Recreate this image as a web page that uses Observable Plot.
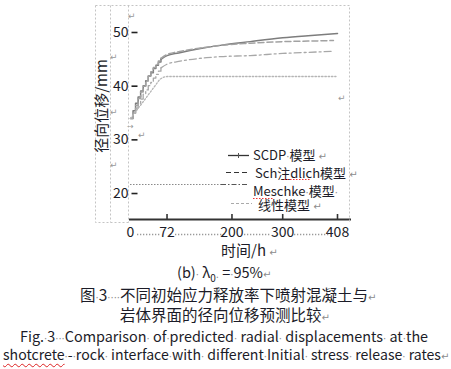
<!DOCTYPE html>
<html>
<head>
<meta charset="utf-8">
<script src="https://cdn.jsdelivr.net/npm/d3@7"></script>
<script src="https://cdn.jsdelivr.net/npm/@observablehq/plot@0.6"></script>
<style>
  html, body { margin: 0; padding: 0; background: #fff; }
  #wrap { position: relative; width: 451px; height: 369px; overflow: hidden; font-family: "Noto Sans CJK SC", "Noto Sans", sans-serif; color: #1c1c28; }
  #wrap svg.plot { position: absolute; left: 0; top: 0; }
  #overlay { position: absolute; left: 0; top: 0; }
  .cap { position: absolute; white-space: pre; line-height: 1; }
  .g { color: #8c8c8c; font-family: "DejaVu Sans"; font-size: 10px; }
  .wavy { text-decoration: underline wavy #d22; text-decoration-thickness: 1px; text-underline-offset: 3px; }
</style>
</head>
<body>
<div id="wrap"></div>
<script>
// ---- data ----
const models = ["SCDP模型", "Schädlich模型", "Meschke模型", "线性模型"];

const scdpT = [0,5,10,15,20,25,30,35,40,45,50,55,60,72,95,138,177,236,300,350,408];
const scdpV = [34.0,35.4,36.8,38.0,39.1,40.1,41.0,41.9,42.5,43.3,43.9,44.5,45.0,45.7,46.2,47.0,47.6,48.3,49.0,49.4,49.8];

const schT = [0,5,10,15,20,25,30,35,40,45,50,55,60,72,100,138,177,236,300,350,400];
const schV = [34.0,35.0,36.4,37.7,38.9,40.0,41.0,41.9,42.7,43.5,44.1,44.7,45.2,45.9,46.5,47.1,47.6,48.0,48.3,48.4,48.5];

const meschT = [0,5,10,15,20,25,30,35,40,45,50,55,60,72,95,150,177,236,300,350,400];
const meschV = [34.0,35.0,35.9,36.8,37.6,38.5,39.3,40.1,40.7,41.5,42.2,42.8,43.4,44.1,44.6,45.3,45.5,45.7,46.1,46.3,46.5];

const linT = [0,25,58,66,72,405];
const linV = [34.0,37.1,41.3,41.7,41.8,41.8];

const xTicks = [0,72,200,300,408];
const yTicks = [20,30,40,50];
const stepEnd = 60; // early excavation stage drawn as staircase

const series = [
  {name: models[0], t: scdpT, v: scdpV, stroke: "#7d7d7d", dash: null, width: 1.5, stepped: true},
  {name: models[1], t: schT, v: schV, stroke: "#a2a2a2", dash: "6,3", width: 1.5, stepped: true},
  {name: models[2], t: meschT, v: meschV, stroke: "#a8a8a8", dash: "7,3,2,3", width: 1.3, stepped: true},
  {name: models[3], t: linT, v: linV, stroke: "#b5b5b5", dash: "1.5,1.8", width: 1.3, stepped: false}
];

const rows = series.flatMap(s => s.t.map((t, i) => ({model: s.name, t, v: s.v[i]})));

const marks = [];
for (const s of series) {
  const d = rows.filter(r => r.model === s.name);
  const style = {x: "t", y: "v", stroke: s.stroke, strokeWidth: s.width, strokeDasharray: s.dash};
  if (s.stepped) {
    marks.push(Plot.line(d.filter(r => r.t <= stepEnd), {...style, curve: "step-after"}));
    marks.push(Plot.line(d.filter(r => r.t >= stepEnd), {...style, curve: "monotone-x"}));
  } else {
    marks.push(Plot.line(d, {...style, curve: "linear"}));
  }
}

const yMin = 15.16, yMax = 55.03;

const chart = Plot.plot({
  width: 451,
  height: 245,
  marginLeft: 130,
  marginRight: 114,
  marginTop: 5,
  marginBottom: 26,
  x: {domain: [0, 408], axis: null},
  y: {domain: [yMin, yMax], axis: null},
  style: {fontFamily: "'Noto Sans CJK SC', 'Noto Sans', sans-serif", fontSize: "14px", color: "#1c1c28", background: "transparent", overflow: "visible"},
  marks: [
    Plot.axisY({ticks: yTicks, tickSize: -6, tickFormat: () => "", stroke: "#222", strokeWidth: 1.6, dx: 1.5, label: null}),
    Plot.axisY({ticks: yTicks, tickSize: 0, tickPadding: 2, fontSize: 14, fill: "#1c1c28", label: null}),
    Plot.axisX({ticks: xTicks.slice(1), tickSize: -5, tickFormat: () => "", stroke: "#333", strokeWidth: 1.6, label: null}),
    Plot.axisX({ticks: xTicks, tickSize: 0, tickPadding: 8, fontSize: 14, fill: "#1c1c28", label: null}),
    ...marks,
    Plot.ruleY([yMin], {stroke: "#333", strokeWidth: 2, insetRight: -14, insetLeft: -1})
  ]
});
chart.classList.add("plot");
const wrap = document.getElementById("wrap");
wrap.appendChild(chart);

// ---- overlay: document frame, axis title, legend ----
const ns = "http://www.w3.org/2000/svg";
const ov = document.createElementNS(ns, "svg");
ov.setAttribute("id", "overlay");
ov.setAttribute("width", 451);
ov.setAttribute("height", 369);
function el(tag, attrs, text, parent) {
  const e = document.createElementNS(ns, tag);
  for (const k in attrs) e.setAttribute(k, attrs[k]);
  if (text != null) e.textContent = text;
  (parent || ov).appendChild(e);
  return e;
}
const frame = {stroke: "#c4c4c4", "stroke-width": 1, "stroke-dasharray": "2,2", fill: "none"};
el("path", {...frame, d: "M95.5,5.5H349.5V222 M95.5,5.5V222.5H130 M110.5,5.5V222.5 M128.5,5.5V222.5"});

// leaders between x tick labels (document tab marks)
el("path", {d: "M137,234.5H160 M175,234.5H222 M244,234.5H271 M294,234.5H329", stroke: "#9a9a9a", "stroke-width": 1.3, "stroke-dasharray": "1.3,1.7", fill: "none"});

// y axis title
el("text", {x: 0, y: 0, transform: "translate(107,106) rotate(-90)", "text-anchor": "middle", "font-size": 15, fill: "#1c1c28", "font-family": "Noto Sans CJK SC"}, "径向位移/mm");

// legend
const lg = {"font-size": 13, fill: "#1c1c28", "font-family": "Noto Sans CJK SC"};
function legText(x, y, parts) {
  const t = el("text", {...lg, x, y});
  for (const [s, gray] of parts) {
    el("tspan", gray ? {fill: "#8c8c8c", "font-family": "DejaVu Sans", "font-size": 10} : {}, s, t);
  }
  return t;
}
el("line", {x1: 228, x2: 249, y1: 155.5, y2: 155.5, stroke: "#333", "stroke-width": 1.3});
el("line", {x1: 238.5, x2: 238.5, y1: 153, y2: 158, stroke: "#555", "stroke-width": 1});
legText(253, 159.5, [["SCDP"], ["·", 1], ["模型"], [" ↵", 1]]);
el("line", {x1: 226, x2: 249, y1: 172.5, y2: 172.5, stroke: "#333", "stroke-width": 1.2, "stroke-dasharray": "5,3"});
legText(255, 177.5, [["Sch注dlich模型"], [" ↵", 1]]);
el("path", {d: "M284,179.5h26", stroke: "#e33", "stroke-width": 1, "stroke-dasharray": "1.5,1.5"});
el("line", {x1: 130, x2: 221, y1: 184.5, y2: 184.5, stroke: "#8a8a8a", "stroke-width": 1.2, "stroke-dasharray": "1.5,1.5"});
el("line", {x1: 221, x2: 249, y1: 184.5, y2: 184.5, stroke: "#555", "stroke-width": 1.2, "stroke-dasharray": "5,2,1.5,2"});
legText(253, 195.5, [["Meschke"], ["·", 1], ["模型"], ["·", 1]]);
el("path", {d: "M253,198.5h20", stroke: "#e33", "stroke-width": 1, "stroke-dasharray": "1.5,1.5"});
el("line", {x1: 231, x2: 252, y1: 203.5, y2: 203.5, stroke: "#aaa", "stroke-width": 1.2, "stroke-dasharray": "3,2"});
legText(258, 210, [["线性模型"], [" ↵", 1]]);
// paragraph marks
const pm = {"font-size": 9, fill: "#999", "font-family": "DejaVu Sans"};
[[128,19],[110,60],[110,115],[110,168],[338,101],[138,138]].forEach(([x,y]) => el("text", {...pm, x, y}, "↵"));
el("text", {...pm, "font-size": 8, x: 127, y: 129}, "→");
wrap.appendChild(ov);

// captions
function cap(html, left, top, size) {
  const d = document.createElement("div");
  d.className = "cap";
  d.style.left = left + "px";
  d.style.top = top + "px";
  d.style.fontSize = size + "px";
  d.innerHTML = html;
  wrap.appendChild(d);
  return d;
}
const G = s => `<span class="g">${s}</span>`;
cap('时间/h' + G(' ↵'), 221, 242, 15);
cap('(b)' + G('·') + ' λ<sub style="font-size:10px">0</sub>' + G('.') + ' =' + G('·') + '95%' + G('↵'), 177, 265, 14.5);
cap('图' + G('·') + '3' + G('····') + '不同初始应力释放率下喷射混凝土与' + G('↵'), 80, 287, 15.5);
cap('岩体界面的径向位移预测比较' + G('↵'), 120, 307, 15.5);
cap('Fig.' + G('·') + '3' + G('···') + 'Comparison' + G('·') + ' of' + G('·') + 'predicted' + G('·') + ' radial' + G('·') + ' displacements' + G('·') + ' at' + G('·') + 'the', 20, 329, 14.4);
cap('<span class="wavy">shotcrete</span>' + G('·') + '-' + G('·') + 'rock' + G('·') + ' interface' + G('·') + 'with' + G('·') + ' different' + G('·') + 'Initial' + G('·') + ' stress' + G('·') + ' release' + G('·') + ' rates' + G('↵'), 3, 347, 14.1);
</script>
</body>
</html>
